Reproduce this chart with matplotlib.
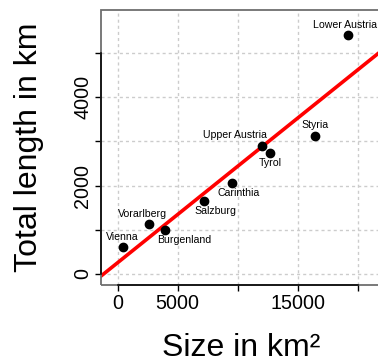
import numpy as np
import matplotlib
matplotlib.use("Agg")
import matplotlib.pyplot as plt
from matplotlib.patches import Rectangle

plt.rcParams['font.family'] = ['Liberation Sans', 'DejaVu Sans']

states = ['Vienna', 'Vorarlberg', 'Burgenland', 'Salzburg', 'Carinthia',
          'Upper Austria', 'Tyrol', 'Styria', 'Lower Austria']
size_km2 = [415, 2601, 3962, 7154, 9536, 11982, 12648, 16401, 19180]
length_km = [611, 1122, 1002, 1658, 2059, 2903, 2737, 3129, 5414]

xticks = [0, 5000, 10000, 15000, 20000]
xticklabels = ['0', '5000', '', '15000', '']
yticks = [0, 1000, 2000, 3000, 4000, 5000]
yticklabels = ['0', '', '2000', '', '4000', '']

# label placement (above/below the point, horizontal nudge in points)
label_side = ['above', 'above', 'below', 'below', 'below',
              'above', 'below', 'above', 'above']
label_dx = [0, -4.7, 14.0, 8.3, 4.7, -19.4, 0, 0, -2.2]

fig = plt.figure(figsize=(3.78, 3.61), dpi=100)
ax = fig.add_axes([0.2685, 0.2119, 0.7431, 0.7604])

# grid first so everything sits on top
for xv in xticks:
    ax.axvline(xv, color='#cccccc', lw=1.0, ls=(0, (2.2, 2.2)), zorder=0)
for yv in yticks:
    ax.axhline(yv, color='#cccccc', lw=1.0, ls=(0, (2.2, 2.2)), zorder=0)

# regression line
slope, icpt = np.polyfit(size_km2, length_km, 1)
xs = np.array([-3000, 25000])
ax.plot(xs, icpt + slope * xs, color='red', lw=2.6, zorder=2)

ax.plot(size_km2, length_km, 'o', color='black', ms=6, zorder=3)

for name, x, y, side, dx in zip(states, size_km2, length_km, label_side, label_dx):
    dy = 5.3 if side == 'above' else -9.6
    ax.annotate(name, (x, y), xytext=(dx, dy), textcoords='offset points',
                ha='center', va='baseline', fontsize=7.6)

ax.set_xlim(-1330, 22000)
ax.set_ylim(-242, 5980)

# gray box, black axis lines between first and last tick
ax.add_patch(Rectangle((0, 0), 1, 1, transform=ax.transAxes, fill=False,
                       edgecolor='#6e6e6e', lw=1.3, clip_on=False, zorder=4))
for s in ['top', 'right']:
    ax.spines[s].set_visible(False)
ax.spines['left'].set_bounds(0, 5000)
ax.spines['bottom'].set_bounds(0, 20000)
ax.spines['left'].set_linewidth(1.1)
ax.spines['bottom'].set_linewidth(1.1)
ax.spines['left'].set_zorder(5)
ax.spines['bottom'].set_zorder(5)

ax.set_xticks(xticks)
ax.set_xticklabels(xticklabels, fontsize=14.2)
ax.set_yticks(yticks)
ax.set_yticklabels(yticklabels, fontsize=14.2, rotation=90, va='center')
ax.tick_params(direction='out', length=4.3, width=1.0, pad=2.2)

ax.set_xlabel('Size in km²', fontsize=23)
ax.set_ylabel('Total length in km', fontsize=23)
ax.xaxis.set_label_coords(0.497, -0.177)
ax.yaxis.set_label_coords(-0.205, 0.5)

fig.savefig('out.png', dpi=100)
